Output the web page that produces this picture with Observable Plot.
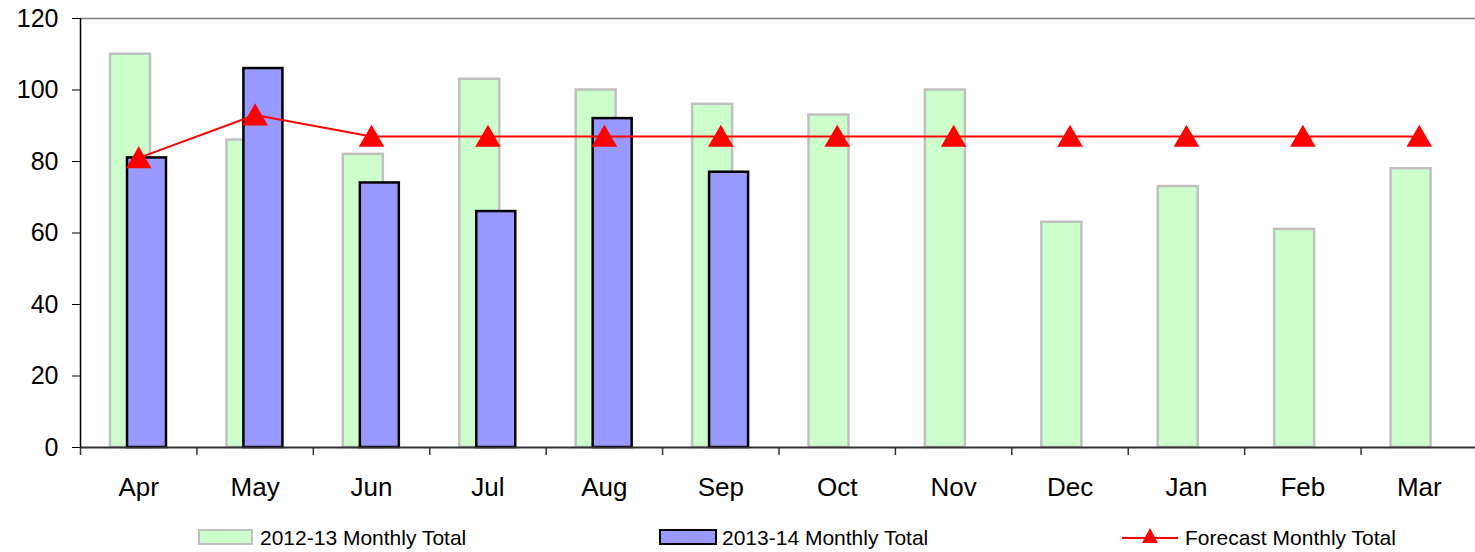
<!DOCTYPE html>
<html>
<head>
<meta charset="utf-8">
<script src="https://cdn.jsdelivr.net/npm/d3@7"></script>
<script src="https://cdn.jsdelivr.net/npm/@observablehq/plot@0.6"></script>
<style>
  body { margin: 0; background: white; font-family: "Liberation Sans", Arial, sans-serif; }
  #wrap { position: relative; width: 1475px; height: 552px; overflow: hidden; }
  .leg { position: absolute; font-size: 21px; color: #000; line-height: 1; white-space: nowrap; }
  .sw { position: absolute; box-sizing: border-box; }
</style>
</head>
<body>
<div id="wrap">
  <div id="chart"></div>
  <div class="sw" style="left:198px;top:529px;width:55px;height:16px;background:#ccffcc;border:2.5px solid #c0c0c0"></div>
  <div class="leg" style="left:260px;top:527px">2012-13 Monthly Total</div>
  <div class="sw" style="left:659px;top:529px;width:58px;height:16px;background:#9999ff;border:2.5px solid #000"></div>
  <div class="leg" style="left:722px;top:527px">2013-14 Monthly Total</div>
  <svg style="position:absolute;left:1118px;top:525px" width="64" height="24">
    <line x1="4" x2="60" y1="13" y2="13" stroke="#ff0000" stroke-width="2"></line>
    <path d="M32,3 L40,18 L24,18 Z" fill="#ff0000"></path>
  </svg>
  <div class="leg" style="left:1185px;top:527px">Forecast Monthly Total</div>
</div>
<script>
const months = ["Apr", "May", "Jun", "Jul", "Aug", "Sep", "Oct", "Nov", "Dec", "Jan", "Feb", "Mar"]
const total1213 = [110, 86, 82, 103, 100, 96, 93, 100, 63, 73, 61, 78]
const total1314 = [81, 106, 74, 66, 92, 77]
const forecast = [81, 93, 87, 87, 87, 87, 87, 87, 87, 87, 87, 87]
const yTicks = [0, 20, 40, 60, 80, 100, 120]

const rows1213 = months.map((m, i) => ({month: m, value: total1213[i]}))
const rows1314 = total1314.map((v, i) => ({month: months[i], value: v}))
const rowsForecast = months.map((m, i) => ({month: m, value: forecast[i]}))

const W = 1475
const mLeft = 80, mRight = -2
const band = (W - mLeft - mRight) / months.length

const chart = Plot.plot({
  width: W,
  height: 506,
  marginTop: 18,
  marginBottom: 59,
  marginLeft: mLeft,
  marginRight: mRight,
  x: {type: "band", domain: months, padding: 0, round: false},
  y: {domain: [0, 120]},
  style: {fontFamily: "'Liberation Sans', Arial, sans-serif", background: "white", color: "#000"},
  marks: [
    Plot.ruleY([120], {stroke: "#808080", strokeWidth: 1.5}),
    // 2012-13 bars (behind, shifted left)
    Plot.barY(rows1213, {
      x: "month", y: "value",
      fill: "#ccffcc", stroke: "#c0c0c0", strokeWidth: 2.5,
      insetLeft: 30, insetRight: band - 70
    }),
    // 2013-14 bars (front, shifted right)
    Plot.barY(rows1314, {
      x: "month", y: "value",
      fill: "#9999ff", stroke: "#000", strokeWidth: 2.5,
      insetLeft: 47, insetRight: band - 86
    }),
    Plot.ruleY([0], {stroke: "#333", strokeWidth: 2}),
    // left axis line and category separators
    Plot.ruleX([months[0]], {x: d => d, y1: 0, y2: 120, dx: -band / 2, stroke: "#000", strokeWidth: 1.5}),
    Plot.ruleX(months, {x: d => d, y1: 0, y2: 0, insetTop: 8, dx: -band / 2, stroke: "#333", strokeWidth: 1.5}),
    Plot.line(rowsForecast, {x: "month", y: "value", stroke: "#ff0000", strokeWidth: 2}),
    Plot.dot(rowsForecast, {x: "month", y: "value", symbol: "triangle", r: 9.5, fill: "#ff0000", stroke: "none", dy: 3}),
    Plot.axisY({ticks: yTicks, tickSize: 8, tickPadding: 14, fontSize: 25, label: null, stroke: "#000"}),
    Plot.axisX({tickSize: 0, tickPadding: 30, fontSize: 26, label: null})
  ]
})

d3.select("#chart").append(() => chart)
</script>
</body>
</html>
